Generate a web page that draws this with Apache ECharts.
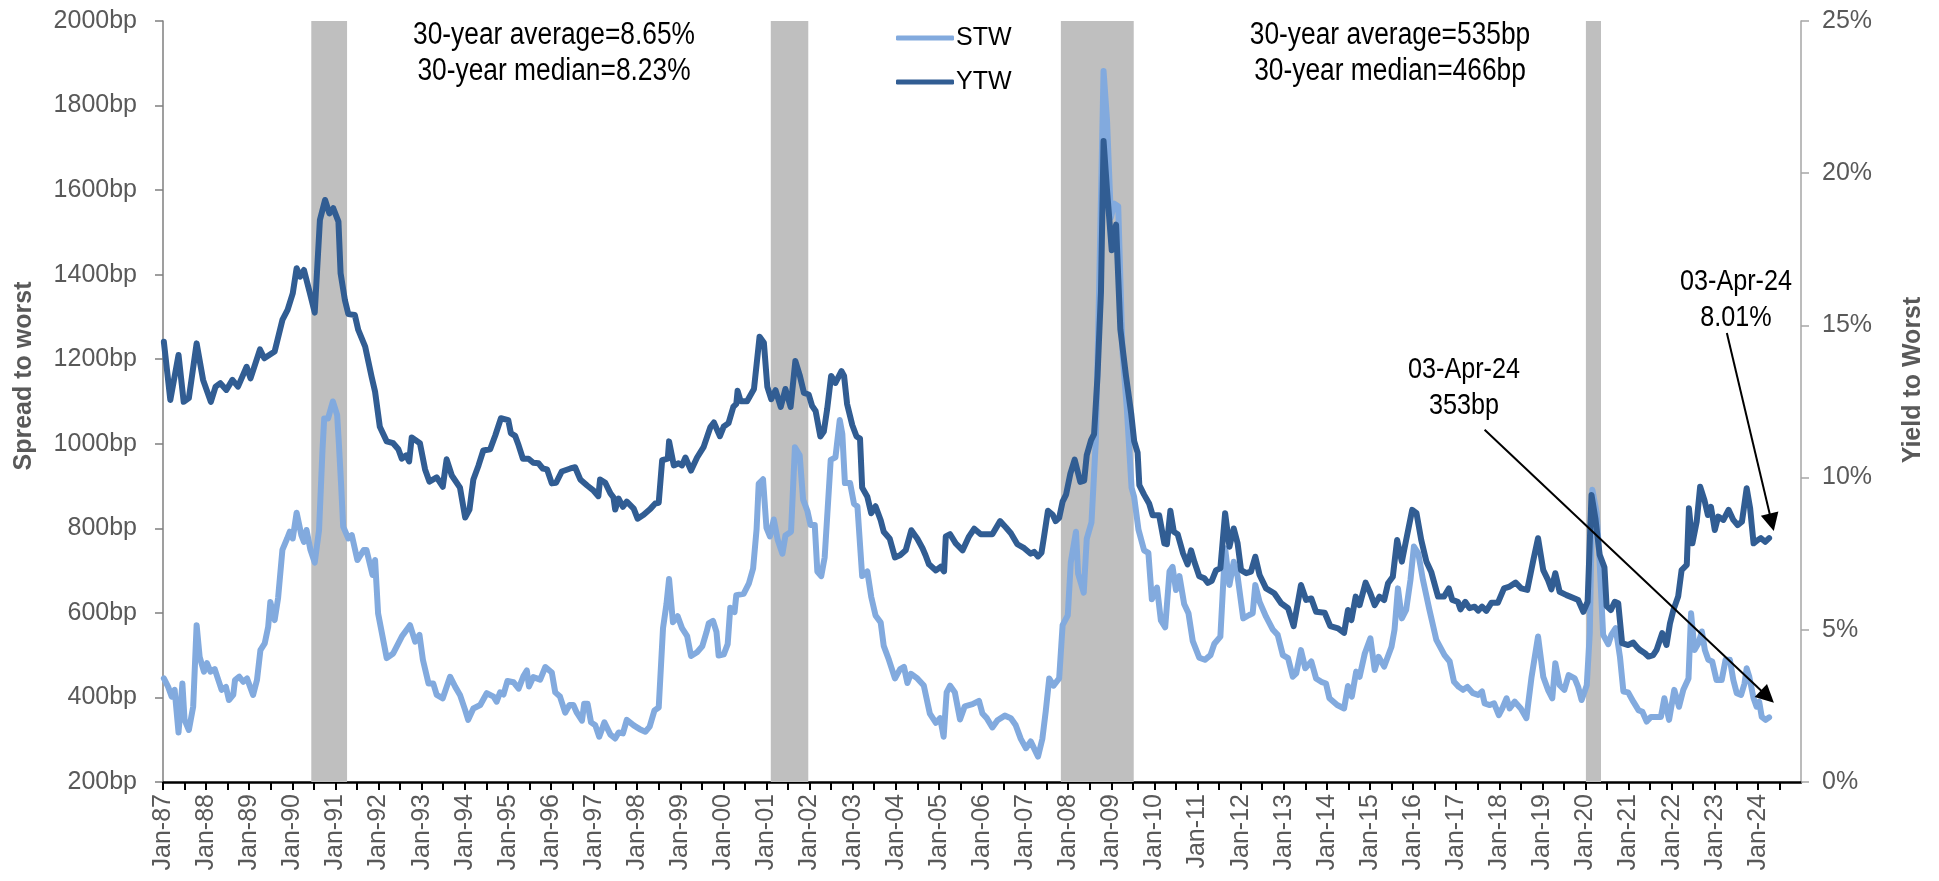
<!DOCTYPE html>
<html>
<head>
<meta charset="utf-8">
<script src="https://cdn.jsdelivr.net/npm/echarts@6/dist/echarts.min.js"></script>
<style>
  html, body { margin: 0; padding: 0; background: #fff; }
  #chart { width: 1939px; height: 881px; }
</style>
</head>
<body>
<div id="chart"></div>
<script>
// STW, spread to worst (bp), left axis
const stwDates = [
  1987.02,1987.12,1987.20,1987.27,1987.36,1987.45,1987.50,1987.60,1987.70,1987.78,
  1987.85,1987.95,1988.02,1988.10,1988.20,1988.36,1988.46,1988.53,1988.63,1988.67,
  1988.77,1988.86,1988.95,1989.09,1989.18,1989.26,1989.36,1989.44,1989.49,1989.59,
  1989.67,1989.77,1989.88,1989.94,1990.01,1990.10,1990.21,1990.27,1990.33,1990.42,
  1990.52,1990.62,1990.70,1990.74,1990.83,1990.94,1991.04,1991.08,1991.13,1991.18,
  1991.30,1991.38,1991.51,1991.66,1991.72,1991.86,1991.92,1991.99,1992.19,1992.34,
  1992.54,1992.73,1992.85,1992.95,1993.03,1993.16,1993.27,1993.35,1993.49,1993.66,
  1993.78,1993.89,1994.01,1994.08,1994.20,1994.36,1994.51,1994.67,1994.74,1994.82,
  1994.90,1994.99,1995.13,1995.25,1995.36,1995.44,1995.49,1995.59,1995.75,1995.87,
  1996.02,1996.10,1996.21,1996.33,1996.43,1996.52,1996.60,1996.72,1996.77,1996.85,
  1996.93,1997.03,1997.12,1997.24,1997.38,1997.49,1997.57,1997.67,1997.76,1997.92,
  1998.06,1998.19,1998.29,1998.40,1998.50,1998.60,1998.68,1998.74,1998.83,1998.94,
  1999.04,1999.16,1999.25,1999.39,1999.51,1999.61,1999.66,1999.76,1999.84,1999.89,
  2000.01,2000.10,2000.16,2000.26,2000.30,2000.47,2000.59,2000.69,2000.77,2000.82,
  2000.92,2001.00,2001.08,2001.17,2001.26,2001.37,2001.44,2001.57,2001.66,2001.77,
  2001.85,2001.95,2002.02,2002.12,2002.18,2002.27,2002.35,2002.49,2002.60,2002.70,
  2002.76,2002.82,2002.94,2003.03,2003.11,2003.22,2003.34,2003.43,2003.53,2003.65,
  2003.72,2003.84,2003.98,2004.10,2004.19,2004.27,2004.35,2004.50,2004.65,2004.79,
  2004.93,2005.03,2005.11,2005.18,2005.26,2005.37,2005.49,2005.60,2005.78,2005.93,
  2006.01,2006.11,2006.24,2006.36,2006.53,2006.67,2006.78,2006.90,2007.02,2007.13,
  2007.30,2007.40,2007.48,2007.56,2007.66,2007.79,2007.87,2007.99,2008.06,2008.18,
  2008.23,2008.36,2008.43,2008.54,2008.64,2008.72,2008.82,2008.90,2008.99,2009.07,
  2009.16,2009.26,2009.36,2009.47,2009.53,2009.63,2009.76,2009.86,2009.94,2010.06,
  2010.15,2010.25,2010.35,2010.42,2010.50,2010.58,2010.69,2010.79,2010.89,2011.04,
  2011.17,2011.30,2011.39,2011.53,2011.64,2011.74,2011.84,2011.93,2012.06,2012.20,
  2012.28,2012.34,2012.44,2012.59,2012.75,2012.86,2012.98,2013.10,2013.21,2013.29,
  2013.40,2013.50,2013.64,2013.75,2013.87,2013.98,2014.06,2014.24,2014.40,2014.49,
  2014.58,2014.68,2014.76,2014.88,2015.01,2015.11,2015.20,2015.33,2015.50,2015.57,
  2015.65,2015.74,2015.84,2015.94,2016.02,2016.12,2016.23,2016.38,2016.54,2016.73,
  2016.85,2016.95,2017.06,2017.16,2017.26,2017.39,2017.51,2017.60,2017.66,2017.78,
  2017.88,2017.99,2018.07,2018.17,2018.24,2018.36,2018.50,2018.63,2018.75,2018.90,
  2019.02,2019.13,2019.23,2019.30,2019.40,2019.51,2019.61,2019.75,2019.83,2019.91,
  2020.03,2020.10,2020.16,2020.26,2020.33,2020.41,2020.53,2020.60,2020.70,2020.80,
  2020.88,2020.99,2021.11,2021.23,2021.32,2021.42,2021.52,2021.63,2021.75,2021.83,
  2021.94,2022.06,2022.17,2022.27,2022.39,2022.45,2022.53,2022.62,2022.70,2022.77,
  2022.85,2022.94,2023.04,2023.16,2023.25,2023.35,2023.43,2023.51,2023.61,2023.69,
  2023.74,2023.80,2023.90,2023.97,2024.03,2024.09,2024.18,2024.26
];
const stwValues = [
  445,425,402,418,317,433,347,323,378,571,
  496,461,481,461,467,418,425,394,406,441,
  449,437,445,406,441,512,528,567,626,583,
  635,749,776,792,776,837,784,768,796,749,
  719,796,985,1060,1060,1100,1068,1001,907,804,
  776,784,725,749,749,690,725,599,493,504,
  544,571,532,548,489,433,433,406,398,449,
  425,406,370,347,374,382,410,402,390,412,
  407,439,436,421,450,464,426,448,442,472,
  459,412,402,364,382,382,364,345,385,385,
  341,334,307,341,312,303,317,315,347,334,
  325,319,331,369,376,564,621,680,578,592,
  564,545,498,507,521,555,575,581,555,499,
  502,526,612,602,642,645,669,705,797,906,
  916,801,781,821,773,740,783,792,992,973,
  868,841,808,808,698,687,731,962,968,1056,
  1023,907,907,858,852,687,698,638,594,577,
  522,489,445,467,472,434,456,445,428,362,
  340,351,307,412,428,412,348,379,384,392,
  362,351,329,346,357,351,335,302,280,296,
  260,302,368,445,428,445,571,594,720,792,
  693,648,775,814,1006,1381,1882,1766,1535,1568,
  1562,1216,1083,896,874,797,748,742,632,660,
  582,566,698,709,654,687,621,599,533,494,
  489,500,527,544,753,666,721,686,587,595,
  599,666,626,591,560,548,500,493,449,457,
  512,469,485,445,437,433,398,382,374,427,
  402,461,449,504,540,465,496,473,520,560,
  658,587,607,678,757,741,678,607,536,500,
  485,437,425,418,425,410,406,414,386,382,
  386,358,374,398,374,390,374,351,449,544,
  449,418,398,481,429,418,453,445,425,394,
  429,552,891,836,717,548,526,548,564,496,
  414,412,390,370,366,343,354,354,354,398,
  347,418,378,418,445,599,512,528,556,512,
  489,485,441,441,489,489,441,410,406,433,
  469,449,398,378,390,354,347,353
];

// YTW, yield to worst (%), right axis
const ytwDates = [
  1987.02,1987.17,1987.36,1987.48,1987.60,1987.78,1987.93,1988.11,1988.22,1988.33,
  1988.47,1988.61,1988.74,1988.94,1989.03,1989.25,1989.35,1989.59,1989.77,1989.89,
  1990.01,1990.10,1990.18,1990.27,1990.41,1990.52,1990.64,1990.76,1990.86,1990.95,
  1991.07,1991.12,1991.22,1991.30,1991.45,1991.53,1991.69,1991.84,1991.92,1992.03,
  1992.19,1992.34,1992.46,1992.54,1992.64,1992.71,1992.77,1992.96,1993.08,1993.18,
  1993.35,1993.49,1993.58,1993.70,1993.89,1994.01,1994.11,1994.20,1994.32,1994.43,
  1994.59,1994.71,1994.84,1995.01,1995.07,1995.17,1995.25,1995.35,1995.48,1995.59,
  1995.71,1995.81,1995.91,1996.02,1996.12,1996.25,1996.45,1996.56,1996.68,1996.84,
  1996.99,1997.10,1997.14,1997.26,1997.38,1997.45,1997.49,1997.57,1997.67,1997.76,
  1997.92,1998.01,1998.15,1998.31,1998.42,1998.50,1998.58,1998.71,1998.74,1998.85,
  1998.96,1999.04,1999.12,1999.25,1999.39,1999.54,1999.70,1999.78,1999.92,2000.01,
  2000.12,2000.23,2000.30,2000.33,2000.40,2000.55,2000.71,2000.84,2000.94,2001.02,
  2001.11,2001.21,2001.33,2001.44,2001.56,2001.67,2001.77,2001.87,2001.98,2002.06,
  2002.14,2002.25,2002.33,2002.41,2002.50,2002.60,2002.74,2002.80,2002.87,2002.99,
  2003.09,2003.17,2003.22,2003.34,2003.43,2003.53,2003.65,2003.72,2003.86,2003.98,
  2004.10,2004.23,2004.36,2004.50,2004.62,2004.69,2004.77,2004.93,2005.04,2005.12,
  2005.16,2005.26,2005.39,2005.55,2005.70,2005.82,2005.97,2006.24,2006.42,2006.55,
  2006.67,2006.82,2006.98,2007.13,2007.21,2007.30,2007.38,2007.44,2007.53,2007.64,
  2007.71,2007.79,2007.87,2007.95,2008.05,2008.15,2008.28,2008.37,2008.43,2008.53,
  2008.60,2008.68,2008.76,2008.82,2008.90,2009.01,2009.11,2009.21,2009.34,2009.46,
  2009.53,2009.61,2009.65,2009.76,2009.88,2009.96,2010.11,2010.23,2010.29,2010.37,
  2010.45,2010.54,2010.66,2010.77,2010.85,2010.93,2011.04,2011.16,2011.24,2011.33,
  2011.43,2011.53,2011.64,2011.74,2011.84,2011.93,2012.01,2012.13,2012.24,2012.34,
  2012.44,2012.59,2012.78,2012.94,2013.10,2013.23,2013.40,2013.52,2013.64,2013.75,
  2013.95,2014.08,2014.26,2014.40,2014.49,2014.57,2014.67,2014.76,2014.90,2015.01,
  2015.11,2015.22,2015.33,2015.42,2015.53,2015.63,2015.74,2015.84,2015.98,2016.08,
  2016.19,2016.31,2016.42,2016.58,2016.72,2016.83,2016.91,2017.04,2017.10,2017.21,
  2017.31,2017.43,2017.51,2017.60,2017.70,2017.82,2017.97,2018.11,2018.24,2018.38,
  2018.51,2018.65,2018.79,2018.90,2019.02,2019.13,2019.21,2019.30,2019.40,2019.56,
  2019.75,2019.83,2019.95,2020.05,2020.14,2020.23,2020.33,2020.44,2020.49,2020.59,
  2020.68,2020.76,2020.85,2020.99,2021.11,2021.19,2021.26,2021.38,2021.46,2021.57,
  2021.65,2021.78,2021.88,2021.96,2022.04,2022.15,2022.23,2022.35,2022.40,2022.48,
  2022.58,2022.66,2022.76,2022.84,2022.91,2023.00,2023.08,2023.20,2023.32,2023.43,
  2023.53,2023.63,2023.74,2023.82,2023.90,2024.00,2024.07,2024.17,2024.26
];
const ytwValues = [
  14.46,12.55,14.03,12.49,12.61,14.41,13.21,12.49,12.99,13.10,
  12.88,13.21,12.99,13.64,13.26,14.21,13.92,14.14,15.18,15.51,
  16.05,16.88,16.60,16.82,16.05,15.42,18.46,19.12,18.68,18.85,
  18.41,16.71,15.83,15.37,15.34,14.85,14.30,13.31,12.82,11.67,
  11.19,11.13,10.93,10.62,10.73,10.53,11.32,11.13,10.27,9.87,
  10.01,9.70,10.60,10.07,9.67,8.69,8.95,9.94,10.40,10.89,
  10.93,11.39,11.95,11.89,11.46,11.37,11.06,10.62,10.62,10.49,
  10.47,10.30,10.27,9.81,9.83,10.20,10.30,10.34,9.94,9.74,
  9.57,9.39,9.94,9.83,9.48,9.35,8.95,9.31,9.04,9.21,
  8.98,8.65,8.78,8.98,9.15,9.17,10.57,10.62,11.19,10.40,
  10.47,10.40,10.66,10.23,10.66,11.00,11.66,11.81,11.36,11.68,
  11.79,12.32,12.42,12.85,12.51,12.51,12.91,14.63,14.43,12.98,
  12.58,12.87,12.32,12.91,12.32,13.83,13.37,12.78,12.73,12.35,
  12.19,11.35,11.51,12.27,13.34,13.11,13.50,13.34,12.42,11.73,
  11.35,11.28,9.67,9.37,8.83,9.06,8.60,8.22,7.99,7.38,
  7.45,7.61,8.27,7.99,7.68,7.45,7.15,6.95,7.07,6.92,
  8.07,8.14,7.84,7.61,8.07,8.32,8.14,8.14,8.57,8.37,
  8.17,7.81,7.68,7.50,7.56,7.41,7.53,8.07,8.91,8.78,
  8.57,8.68,9.21,9.44,10.13,10.59,9.86,9.90,10.74,11.23,
  11.43,13.34,16.09,21.06,19.46,17.47,18.31,14.87,13.34,12.12,
  11.20,10.82,9.75,9.44,9.14,8.76,8.76,7.84,7.81,8.91,
  8.22,8.14,7.53,7.15,7.61,7.22,6.76,6.69,6.54,6.61,
  6.96,7.02,8.83,7.73,8.33,7.84,6.96,6.86,6.91,7.40,
  6.80,6.36,6.20,5.87,5.71,5.12,6.47,5.98,6.03,5.59,
  5.56,5.12,5.05,4.90,5.65,5.32,6.09,5.81,6.55,6.20,
  5.81,6.09,5.98,6.53,6.74,7.95,7.24,7.95,8.94,8.83,
  7.95,7.24,6.91,6.09,6.09,6.36,5.98,5.92,5.67,5.92,
  5.71,5.76,5.63,5.76,5.62,5.89,5.89,6.36,6.42,6.55,
  6.36,6.31,7.29,8.01,6.96,6.64,6.33,6.86,6.25,6.14,
  6.03,5.98,5.59,5.92,9.43,8.66,7.46,7.05,5.78,5.65,
  5.92,5.87,4.56,4.50,4.58,4.44,4.34,4.23,4.12,4.17,
  4.34,4.89,4.50,5.21,5.65,6.09,6.96,7.13,8.99,7.84,
  8.55,9.70,9.26,8.77,9.04,8.28,8.72,8.61,8.94,8.61,
  8.44,8.55,9.65,8.99,7.84,7.95,8.01,7.89,8.01
];

// recession periods (shaded)
const recessions = [[1990.44, 1991.27], [2001.10, 2001.97], [2007.83, 2009.52], [2020.01, 2020.36]];

// x axis runs Jan-87 .. Jan-25, ticks every 6 months, label every January
const firstYear = 1987;
const lastYear = 2025;

// arrow annotations: [from, to] in data units
const stwArrow = [[2017.66, 1033], [2024.22, 402]];
const ytwArrow = [[2023.28, 14.75], [2024.32, 8.53]];

const axisFont = "'Liberation Sans', Arial, sans-serif";

let chart = echarts.init(document.getElementById('chart'));

// no narrow font installed: squeeze regular text horizontally
function textBox(text, x, y, size, squeeze) {
  return {
    type: 'text', x: x, y: y, scaleX: squeeze, silent: true,
    style: {
      text: text, fontSize: size, fontFamily: axisFont, fill: '#000',
      textAlign: 'center', textVerticalAlign: 'middle', lineHeight: 36
    }
  };
}

let option = {
  animation: false,
  backgroundColor: '#fff',
  grid: { left: 163, right: 138, top: 21, bottom: 99 },
  legend: {
    data: ['STW', 'YTW'],
    orient: 'vertical',
    left: 891, top: 20,
    itemWidth: 58, itemHeight: 5, itemGap: 18,
    icon: 'roundRect',
    textStyle: { fontSize: 25, fontFamily: axisFont, color: '#000', lineHeight: 26, padding: [0, 0, 0, -3] }
  },
  xAxis: {
    type: 'value',
    min: firstYear, max: lastYear, interval: 0.5,
    splitLine: { show: false },
    axisLine: { show: true, lineStyle: { color: '#000', width: 2.5 } },
    axisTick: { show: true, length: 8, lineStyle: { color: '#000', width: 2 } },
    axisLabel: {
      rotate: 90, margin: 12, fontSize: 25, fontFamily: axisFont, color: '#595959',
      showMaxLabel: false,
      formatter: function (v) {
        if (!Number.isInteger(v) || v >= lastYear) return '';
        return 'Jan-' + String(v % 100).padStart(2, '0');
      }
    }
  },
  yAxis: [
    {
      type: 'value', min: 200, max: 2000, interval: 200,
      splitLine: { show: false },
      axisLine: { show: true, lineStyle: { color: '#7f7f7f', width: 1.5 } },
      axisTick: { show: true, length: 8, lineStyle: { color: '#7f7f7f', width: 1.5 } },
      axisLabel: {
        formatter: function (v) { return v + 'bp'; },
        margin: 26, fontSize: 25, fontFamily: axisFont, color: '#595959'
      }
    },
    {
      type: 'value', min: 0, max: 25, interval: 5,
      splitLine: { show: false },
      axisLine: { show: true, lineStyle: { color: '#a6a6a6', width: 1.5 } },
      axisTick: { show: true, length: 8, lineStyle: { color: '#a6a6a6', width: 1.5 } },
      axisLabel: {
        formatter: function (v) { return v + '%'; },
        margin: 21, fontSize: 25, fontFamily: axisFont, color: '#595959'
      }
    }
  ],
  series: [
    {
      name: 'STW', type: 'line', yAxisIndex: 0,
      data: stwDates.map((d, i) => [d, stwValues[i]]),
      showSymbol: false, symbol: 'none', z: 3,
      color: '#82aade',
      lineStyle: { width: 6, color: '#82aade', cap: 'round', join: 'round' },
      markArea: {
        silent: true,
        itemStyle: { color: '#bfbfbf', opacity: 1 },
        data: recessions.map(r => [{ xAxis: r[0] }, { xAxis: r[1] }])
      },
      markLine: {
        silent: true, symbol: ['none', 'triangle'], symbolSize: 18,
        lineStyle: { color: '#000', width: 2, type: 'solid' },
        label: { show: false },
        data: [[{ coord: stwArrow[0] }, { coord: stwArrow[1] }]]
      }
    },
    {
      name: 'YTW', type: 'line', yAxisIndex: 1,
      data: ytwDates.map((d, i) => [d, ytwValues[i]]),
      showSymbol: false, symbol: 'none', z: 4,
      color: '#315d93',
      lineStyle: { width: 6, color: '#315d93', cap: 'round', join: 'round' },
      markLine: {
        silent: true, symbol: ['none', 'triangle'], symbolSize: 18,
        lineStyle: { color: '#000', width: 2, type: 'solid' },
        label: { show: false },
        data: [[{ coord: ytwArrow[0] }, { coord: ytwArrow[1] }]]
      }
    }
  ],
  graphic: [
    textBox('30-year average=8.65%\n30-year median=8.23%', 554, 53, 31, 0.85),
    textBox('30-year average=535bp\n30-year median=466bp', 1390, 53, 31, 0.85),
    textBox('03-Apr-24\n353bp', 1464, 388, 30, 0.84),
    textBox('03-Apr-24\n8.01%', 1736, 300, 30, 0.84),
    {
      type: 'text', x: 24, y: 376, rotation: Math.PI / 2, silent: true,
      style: { text: 'Spread to worst', fontSize: 25, fontWeight: 'bold', fontFamily: axisFont,
        fill: '#595959', textAlign: 'center', textVerticalAlign: 'middle' }
    },
    {
      type: 'text', x: 1913, y: 380, rotation: Math.PI / 2, silent: true,
      style: { text: 'Yield to Worst', fontSize: 25, fontWeight: 'bold', fontFamily: axisFont,
        fill: '#595959', textAlign: 'center', textVerticalAlign: 'middle' }
    }
  ]
};

chart.setOption(option);
</script>
</body>
</html>
